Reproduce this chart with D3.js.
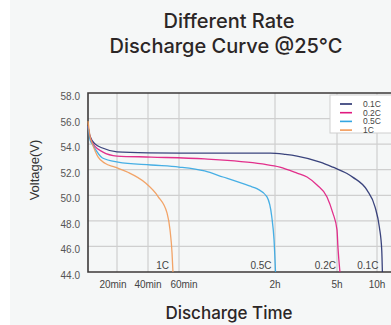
<!DOCTYPE html>
<html>
<head>
<meta charset="utf-8">
<script src="https://cdn.jsdelivr.net/npm/d3@7"></script>
<style>
  html, body { margin: 0; padding: 0; background: #f5f7f7; }
  svg { display: block; }
</style>
</head>
<body>
<div id="chart"></div>
<script>
// discharge time in minutes, voltage in V
const rates = ["0.1C", "0.2C", "0.5C", "1C"];
const rateColors = ["#26306f", "#e0197f", "#33a6e2", "#f29a58"];

const curve01C = [[0, 55.4], [1.5, 54.6], [5, 54.0], [10, 53.7], [20, 53.4], [40, 53.32], [60, 53.3],
  [117, 53.3], [150, 53.2], [184, 53.07], [251, 52.6], [288, 52.2], [375, 51.7], [420, 51.4],
  [525, 50.4], [585, 49.1], [615, 47.5], [630, 45.7], [634, 44.0]];
const curve02C = [[0, 55.4], [1.5, 54.5], [5, 53.8], [10, 53.4], [20, 53.07], [42, 52.99], [76, 52.84],
  [112, 52.45], [134, 52.21], [184, 51.74], [213, 51.43], [242, 50.8], [271, 49.87], [288, 48.6],
  [300, 47.3], [307, 45.95], [322, 44.0]];
const curve05C = [[0, 55.4], [1.5, 54.3], [3, 54.0], [10, 52.92], [20.6, 52.6], [42, 52.37], [60, 52.21],
  [76, 51.9], [87.5, 51.43], [104, 50.73], [109, 50.5], [115, 49.87], [118, 48.3], [119.4, 46.5],
  [121.5, 44.0]];
const curve1C = [[0, 55.8], [1.4, 54.6], [2.8, 54.1], [6.9, 53.0], [11.7, 52.5], [18.6, 52.2], [27, 51.8],
  [38, 51.0], [46.5, 49.9], [52.3, 48.6], [54.2, 47.3], [55.5, 45.5], [56.1, 44.0]];
const curves = [curve01C, curve02C, curve05C, curve1C];

const timeTicks = [20, 40, 60, 120, 300, 600];
const timeTickLabels = ["20min", "40min", "60min", "2h", "5h", "10h"];
const voltTicks = [44, 46, 48, 50, 52, 54, 56, 58];

const width = 391, height = 325;
const plotLeft = 88, plotTop = 93, plotBottom = 272, plotRight = 396;

const svg = d3.select("#chart").append("svg")
  .attr("width", width)
  .attr("height", height);

svg.append("rect").attr("width", width).attr("height", height).attr("fill", "#f5f7f7");
svg.append("rect").attr("width", 10).attr("height", height).attr("fill", "#ffffff");

// time axis is stretched piecewise, like the original
const x = d3.scaleLinear()
  .domain([0, 20, 40, 60, 120, 300, 600, 720])
  .range([plotLeft, 117, 148, 179, 275, 337, 377, plotRight]);
const y = d3.scaleLinear().domain([44, 58]).range([plotBottom, plotTop]);

// grid
svg.append("g")
  .selectAll("line")
  .data(voltTicks.slice(1, -1))
  .enter()
  .append("line")
  .attr("x1", plotLeft).attr("x2", plotRight)
  .attr("y1", d => y(d)).attr("y2", d => y(d))
  .attr("stroke", "#cfcfcf").attr("stroke-width", 1.2);

svg.append("g")
  .selectAll("line")
  .data(timeTicks)
  .enter()
  .append("line")
  .attr("x1", d => x(d)).attr("x2", d => x(d))
  .attr("y1", plotTop).attr("y2", plotBottom)
  .attr("stroke", "#cfcfcf").attr("stroke-width", 1.2);

// frame: top, left, bottom
svg.append("path")
  .attr("d", "M" + plotRight + "," + plotTop + "H" + plotLeft + "V" + plotBottom + "H" + plotRight)
  .attr("fill", "none")
  .attr("stroke", "#3d3a3a")
  .attr("stroke-width", 1.6);

// y tick labels
svg.append("g")
  .selectAll("text")
  .data(voltTicks)
  .enter()
  .append("text")
  .attr("x", plotLeft - 8)
  .attr("y", d => y(d) + 7)
  .attr("text-anchor", "end")
  .style("font-family", "Liberation Sans, Arial, sans-serif")
  .style("font-size", "10px")
  .attr("fill", "#555")
  .text(d => d3.format(".1f")(d));

// x tick labels (first and third pushed apart a little so they don't touch)
const tickShift = i => (i === 0 ? -4 : i === 2 ? 5 : 0);
svg.append("g")
  .selectAll("text")
  .data(timeTicks)
  .enter()
  .append("text")
  .attr("x", (d, i) => x(d) + tickShift(i))
  .attr("y", plotBottom + 16)
  .attr("text-anchor", "middle")
  .style("font-family", "Liberation Sans, Arial, sans-serif")
  .style("font-size", "10px")
  .attr("fill", "#444")
  .text((d, i) => timeTickLabels[i]);

// curves
const line = d3.line()
  .x(d => x(d[0]))
  .y(d => y(d[1]))
  .curve(d3.curveMonotoneX);

svg.append("g")
  .selectAll("path")
  .data(curves)
  .enter()
  .append("path")
  .attr("d", line)
  .attr("fill", "none")
  .attr("stroke", (d, i) => rateColors[i])
  .attr("stroke-width", 1.3)
  .attr("stroke-opacity", 0.9);

// rate labels next to the end of each curve
svg.append("g")
  .selectAll("text")
  .data(curves)
  .enter()
  .append("text")
  .attr("x", d => x(d[d.length - 1][0]) - 4)
  .attr("y", plotBottom - 3)
  .attr("text-anchor", "end")
  .style("font-family", "Liberation Sans, Arial, sans-serif")
  .style("font-size", "10px")
  .attr("fill", "#444")
  .text((d, i) => rates[i]);

// legend
const legend = svg.append("g").attr("transform", "translate(330,95)");
legend.append("rect")
  .attr("width", 70).attr("height", 38)
  .attr("fill", "#fff")
  .attr("stroke", "#cfcfcf");
const item = legend.selectAll("g")
  .data(rates)
  .enter()
  .append("g")
  .attr("transform", (d, i) => "translate(0," + (9 + i * 8.7) + ")");
item.append("line")
  .attr("x1", 10).attr("x2", 22)
  .attr("stroke", (d, i) => rateColors[i])
  .attr("stroke-width", 1.6);
item.append("text")
  .attr("x", 33).attr("y", 3)
  .style("font-family", "Liberation Sans, Arial, sans-serif")
  .style("font-size", "8.5px")
  .attr("fill", "#444")
  .text(d => d);

// titles
const title = svg.append("text")
  .attr("text-anchor", "middle")
  .style("font-family", "Inter, sans-serif")
  .style("font-weight", 500)
  .style("font-size", "20px")
  .attr("fill", "#2b2626");
title.append("tspan").attr("x", 229).attr("y", 28).text("Different Rate");
title.append("tspan").attr("x", 226).attr("y", 53).text("Discharge Curve @25°C");

svg.append("text")
  .attr("x", 229).attr("y", 319)
  .attr("text-anchor", "middle")
  .style("font-family", "Inter, sans-serif")
  .style("font-weight", 500)
  .style("font-size", "17px")
  .attr("fill", "#2b2626")
  .text("Discharge Time");

svg.append("text")
  .attr("transform", "translate(39,170) rotate(-90)")
  .attr("text-anchor", "middle")
  .style("font-family", "Liberation Sans, Arial, sans-serif")
  .style("font-size", "13px")
  .attr("fill", "#333")
  .text("Voltage(V)");
</script>
</body>
</html>
